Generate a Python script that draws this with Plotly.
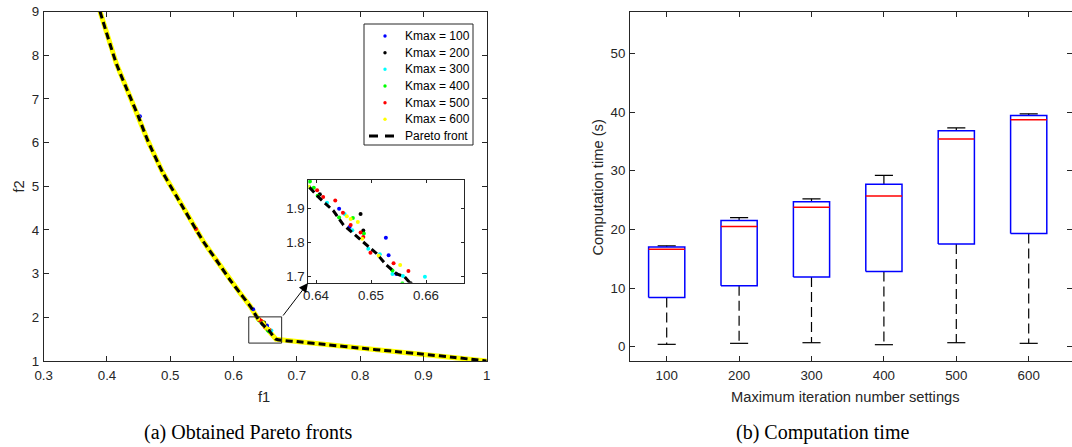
import plotly.graph_objects as go

# ---------------- data: (a) Pareto fronts ----------------
front_f1 = [0.389, 0.415, 0.4364, 0.4495, 0.4643, 0.4875, 0.510, 0.5522, 0.5733, 0.5944, 0.6105, 0.626,
            0.6387, 0.6407, 0.6432, 0.6450, 0.6471, 0.6492, 0.6510, 0.6528, 0.6547, 0.6561,
            0.667, 0.70, 0.75, 0.80, 0.85, 0.90, 0.95, 1.0]
front_f2 = [9.0, 7.80, 7.05, 6.60, 6.05, 5.33, 4.766, 3.735, 3.30, 2.857, 2.55, 2.26,
            1.963, 1.929, 1.892, 1.851, 1.822, 1.793, 1.768, 1.734, 1.708, 1.700,
            1.50, 1.445, 1.37, 1.295, 1.225, 1.155, 1.08, 1.0]

k100_f1 = [0.452, 0.631, 0.6442, 0.6461, 0.6527, 0.6532, 0.6546]
k100_f2 = [6.60, 2.185, 1.899, 1.845, 1.814, 1.763, 1.708]
k200_f1 = [0.6407, 0.6481, 0.6486, 0.6572]
k200_f2 = [1.941, 1.883, 1.835, 1.681]
k300_f1 = [0.6388, 0.6420, 0.6452, 0.6466, 0.6495, 0.6516, 0.6539, 0.6558, 0.6598]
k300_f2 = [1.962, 1.916, 1.883, 1.836, 1.782, 1.766, 1.708, 1.702, 1.700]
k400_f1 = [0.6389, 0.6396, 0.6403, 0.6442, 0.6467, 0.6487, 0.6539, 0.6557]
k400_f2 = [1.978, 1.960, 1.937, 1.873, 1.872, 1.826, 1.718, 1.680]
k500_f1 = [0.5406, 0.5733, 0.6402, 0.6413, 0.6435, 0.6449, 0.6463, 0.6481, 0.6486, 0.6499, 0.6541, 0.6568]
k500_f2 = [4.02, 3.30, 1.953, 1.933, 1.923, 1.887, 1.851, 1.829, 1.816, 1.770, 1.739, 1.717]
k600_f1 = [0.389, 0.415, 0.4364, 0.4495, 0.4643, 0.4875, 0.510, 0.5522, 0.5733, 0.5944, 0.6105, 0.626,
           0.6387, 0.6456, 0.6463, 0.6476, 0.6484, 0.6514, 0.6553,
           0.667, 0.70, 0.75, 0.80, 0.85, 0.90, 0.95, 1.0]
k600_f2 = [9.0, 7.80, 7.05, 6.60, 6.05, 5.33, 4.766, 3.735, 3.30, 2.857, 2.55, 2.26,
           1.963, 1.877, 1.869, 1.860, 1.811, 1.761, 1.734,
           1.50, 1.445, 1.37, 1.295, 1.225, 1.155, 1.08, 1.0]

series_names = ["Kmax = 100", "Kmax = 200", "Kmax = 300", "Kmax = 400", "Kmax = 500", "Kmax = 600"]
series_colors = ["#0000ff", "#000000", "#00ffff", "#00ff00", "#ff0000", "#ffff00"]
series_f1 = [k100_f1, k200_f1, k300_f1, k400_f1, k500_f1, k600_f1]
series_f2 = [k100_f2, k200_f2, k300_f2, k400_f2, k500_f2, k600_f2]
front_name = "Pareto front"

zoom_box_f1 = [0.624, 0.676]
zoom_box_f2 = [1.41, 2.01]

# ---------------- data: (b) computation time ----------------
kmax_labels = ["100", "200", "300", "400", "500", "600"]
whisker_low = [0.4, 0.57, 0.68, 0.34, 0.68, 0.57]
q1 = [8.4, 10.4, 11.9, 12.8, 17.5, 19.3]
median = [16.6, 20.5, 23.75, 25.7, 35.4, 38.7]
q3 = [17.0, 21.5, 24.7, 27.7, 36.8, 39.4]
whisker_high = [17.2, 22.0, 25.2, 29.2, 37.3, 39.7]

AX = "#262626"
FONT = "Liberation Sans, Arial, sans-serif"
SERIF = "Liberation Serif, Times New Roman, serif"
W, H = 1072, 447
def px_x(v): return v / W
def px_y(v): return 1 - v / H

fig = go.Figure()

# yellow band (Kmax = 600 solutions spread along the whole front)
fig.add_trace(go.Scatter(x=k600_f1, y=k600_f2, mode="lines",
                         line=dict(color="#ffff00", width=5), showlegend=False,
                         hoverinfo="skip", xaxis="x", yaxis="y"))
for name, col, fx, fy in zip(series_names, series_colors, series_f1, series_f2):
    fig.add_trace(go.Scatter(x=fx, y=fy, mode="markers", name=name, showlegend=False,
                             marker=dict(color=col, size=4), xaxis="x", yaxis="y"))
fig.add_trace(go.Scatter(x=front_f1, y=front_f2, mode="lines", name=front_name, showlegend=False,
                         line=dict(color="black", width=3, dash="7px,4px", shape="spline", smoothing=0.6),
                         xaxis="x", yaxis="y"))

# inset
for name, col, fx, fy in zip(series_names, series_colors, series_f1, series_f2):
    fig.add_trace(go.Scatter(x=fx, y=fy, mode="markers", showlegend=False,
                             marker=dict(color=col, size=4), xaxis="x3", yaxis="y3"))
fig.add_trace(go.Scatter(x=front_f1, y=front_f2, mode="lines", showlegend=False,
                         line=dict(color="black", width=3, dash="7px,4px"),
                         xaxis="x3", yaxis="y3"))

# boxplots drawn MATLAB style
pos = list(range(1, len(kmax_labels) + 1))
hw, cw = 0.25, 0.125
bx, by, mx, my, wx, wy, cx, cy = [], [], [], [], [], [], [], []
for p, lo, a, m, b, hi in zip(pos, whisker_low, q1, median, q3, whisker_high):
    bx += [p - hw, p + hw, p + hw, p - hw, p - hw, None]
    by += [a, a, b, b, a, None]
    mx += [p - hw, p + hw, None]
    my += [m, m, None]
    wx += [p, p, None, p, p, None]
    wy += [b, hi, None, a, lo, None]
    cx += [p - cw, p + cw, None, p - cw, p + cw, None]
    cy += [hi, hi, None, lo, lo, None]
fig.add_trace(go.Scatter(x=wx, y=wy, mode="lines", showlegend=False,
                         line=dict(color="black", width=1.2, dash="10px,5px"), xaxis="x2", yaxis="y2"))
fig.add_trace(go.Scatter(x=cx, y=cy, mode="lines", showlegend=False,
                         line=dict(color="black", width=1.2), xaxis="x2", yaxis="y2"))
fig.add_trace(go.Scatter(x=bx, y=by, mode="lines", showlegend=False,
                         line=dict(color="#0000ff", width=1.5), xaxis="x2", yaxis="y2"))
fig.add_trace(go.Scatter(x=mx, y=my, mode="lines", showlegend=False,
                         line=dict(color="#ff0000", width=1.5), xaxis="x2", yaxis="y2"))

axis_common = dict(showline=True, linecolor=AX, linewidth=1, mirror="ticks", ticks="inside",
                   tickcolor=AX, ticklen=5, showgrid=False, zeroline=False, automargin=False,
                   tickfont=dict(family=FONT, size=13.3, color=AX))
inset_axis = {**axis_common, "ticklen": 3}

fig.update_layout(
    width=W, height=H, margin=dict(l=0, r=0, t=0, b=0, autoexpand=False),
    paper_bgcolor="white", plot_bgcolor="white", showlegend=False,
    xaxis=dict(domain=[px_x(43.7), px_x(486.7)], range=[0.3, 1.0], dtick=0.1, anchor="y",
               ticklabelstandoff=2, **axis_common),
    yaxis=dict(domain=[px_y(361), px_y(11.5)], range=[1, 9], dtick=1, anchor="x",
               ticklabelstandoff=1, **axis_common),
    xaxis2=dict(domain=[px_x(630), 1.0], range=[0.4931, 6.598], tickvals=pos, ticktext=kmax_labels,
                anchor="y2", ticklabelstandoff=2, **axis_common),
    yaxis2=dict(domain=[px_y(361), px_y(11.5)], range=[-2.44, 57.14], tickvals=[0, 10, 20, 30, 40, 50],
                anchor="x2", ticklabelstandoff=1, **axis_common),
    xaxis3=dict(domain=[px_x(308.3), px_x(464.3)], range=[0.6386, 0.66696],
                tickvals=[0.64, 0.65, 0.66], ticktext=["0.64", "0.65", "0.66"], anchor="y3", **inset_axis),
    yaxis3=dict(domain=[px_y(282.7), px_y(179.7)], range=[1.6825, 1.9836],
                tickvals=[1.7, 1.8, 1.9], ticktext=["1.7", "1.8", "1.9"], anchor="x3", **inset_axis),
)

# axis titles
title_font = dict(family=FONT, size=14.7, color=AX)
fig.add_annotation(xref="paper", yref="paper", x=px_x(264), y=px_y(397), text="f1", showarrow=False,
                   xanchor="center", yanchor="middle", font=title_font)
fig.add_annotation(xref="paper", yref="paper", x=px_x(18.5), y=px_y(187), text="f2", showarrow=False,
                   xanchor="center", yanchor="middle", textangle=-90, font=title_font)
fig.add_annotation(xref="paper", yref="paper", x=px_x(845), y=px_y(397),
                   text="Maximum iteration number settings", showarrow=False,
                   xanchor="center", yanchor="middle", font=title_font)
fig.add_annotation(xref="paper", yref="paper", x=px_x(597.5), y=px_y(188), text="Computation time (s)",
                   showarrow=False, xanchor="center", yanchor="middle", textangle=-90, font=title_font)

# legend (MATLAB-like compact box)
leg_left, leg_right, leg_top, leg_bottom = 364, 473, 24, 145
row_y = [36, 52.7, 69.3, 86, 102.7, 119.3, 136]
fig.add_shape(type="rect", xref="paper", yref="paper", x0=px_x(leg_left), x1=px_x(leg_right),
              y0=px_y(leg_bottom), y1=px_y(leg_top), line=dict(color=AX, width=1), fillcolor="white",
              layer="above")
for name, col, ry in zip(series_names, series_colors, row_y):
    fig.add_shape(type="circle", xref="paper", yref="paper", x0=px_x(383.3), x1=px_x(386.7),
                  y0=px_y(ry + 1.7), y1=px_y(ry - 1.7), line=dict(color=col, width=0), fillcolor=col,
                  layer="above")
    fig.add_annotation(xref="paper", yref="paper", x=px_x(403), y=px_y(ry), text=name, showarrow=False,
                       xanchor="left", yanchor="middle", font=dict(family=FONT, size=12, color="black"))
fig.add_shape(type="line", xref="paper", yref="paper", x0=px_x(369), x1=px_x(394),
              y0=px_y(row_y[-1]), y1=px_y(row_y[-1]), line=dict(color="black", width=3, dash="9px,7px"),
              layer="above")
fig.add_annotation(xref="paper", yref="paper", x=px_x(403), y=px_y(row_y[-1]), text=front_name,
                   showarrow=False, xanchor="left", yanchor="middle",
                   font=dict(family=FONT, size=12, color="black"))

fig.add_shape(type="rect", xref="x", yref="y", x0=zoom_box_f1[0], x1=zoom_box_f1[1],
              y0=zoom_box_f2[0], y1=zoom_box_f2[1], line=dict(color="#262626", width=1))
fig.add_annotation(xref="paper", yref="paper", x=px_x(308), y=px_y(283), ax=-26, ay=34,
                   showarrow=True, arrowhead=2, arrowsize=1.8, arrowwidth=1, arrowcolor="black", text="")

# captions
fig.add_annotation(xref="paper", yref="paper", x=px_x(248), y=px_y(432), showarrow=False,
                   xanchor="center", yanchor="middle", text="(a) Obtained Pareto fronts",
                   font=dict(family=SERIF, size=20, color="black"))
fig.add_annotation(xref="paper", yref="paper", x=px_x(822), y=px_y(432), showarrow=False,
                   xanchor="center", yanchor="middle", text="(b) Computation time",
                   font=dict(family=SERIF, size=20, color="black"))

fig.write_html("out.html", config={"displayModeBar": False},
               post_script="document.body.style.margin='0';document.body.style.padding='0';"
                           "document.body.style.overflow='hidden';")
